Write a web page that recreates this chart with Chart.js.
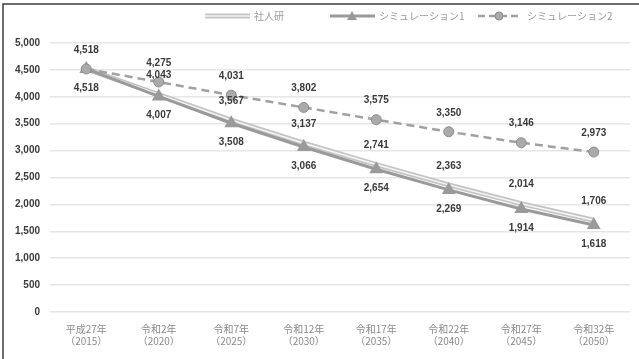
<!DOCTYPE html>
<html>
<head>
<meta charset="utf-8">
<script src="https://cdn.jsdelivr.net/npm/chart.js@4"></script>
<style>
  html, body { margin: 0; padding: 0; background: #fff; }
  #wrap { width: 639px; height: 359px; position: relative; }
</style>
</head>
<body>
<div id="wrap"><canvas id="c" width="639" height="359"></canvas></div>
<script>
// --- data ---
const years = ["平成27年", "令和2年", "令和7年", "令和12年", "令和17年", "令和22年", "令和27年", "令和32年"];
const westernYears = ["2015", "2020", "2025", "2030", "2035", "2040", "2045", "2050"];
const seriesNames = ["社人研", "シミュレーション1", "シミュレーション2"];
const ipss = [4518, 4043, 3567, 3137, 2741, 2363, 2014, 1706];
const sim1 = [4518, 4007, 3508, 3066, 2654, 2269, 1914, 1618];
const sim2 = [4518, 4275, 4031, 3802, 3575, 3350, 3146, 2973];
const yTicks = [0, 500, 1000, 1500, 2000, 2500, 3000, 3500, 4000, 4500, 5000];

const labels = years.map((y, i) => [y, "（" + westernYears[i] + "）"]);
const fmt = (v) => v.toLocaleString("en-US");

// --- legend: line + marker swatch, then the name ---
const legendX = [205, 330, 478];
function drawSwatch(g, kind, x, y) {
  g.save();
  if (kind === 0) {
    g.strokeStyle = "#c4c4c4"; g.lineWidth = 5;
    g.beginPath(); g.moveTo(x, y); g.lineTo(x + 45, y); g.stroke();
    g.strokeStyle = "#f4f4f4"; g.lineWidth = 1.5;
    g.beginPath(); g.moveTo(x, y); g.lineTo(x + 45, y); g.stroke();
  } else if (kind === 1) {
    g.strokeStyle = "#9a9a9a"; g.lineWidth = 3;
    g.beginPath(); g.moveTo(x, y); g.lineTo(x + 45, y); g.stroke();
    g.fillStyle = "#9a9a9a";
    g.beginPath(); g.moveTo(x + 22, y - 5); g.lineTo(x + 27, y + 4); g.lineTo(x + 17, y + 4); g.closePath(); g.fill();
  } else {
    g.strokeStyle = "#a0a0a0"; g.lineWidth = 2.5; g.setLineDash([7, 4]);
    g.beginPath(); g.moveTo(x, y); g.lineTo(x + 42, y); g.stroke();
    g.setLineDash([]);
    g.fillStyle = "#aaaaaa"; g.strokeStyle = "#8c8c8c"; g.lineWidth = 1;
    g.beginPath(); g.arc(x + 21, y, 4, 0, Math.PI * 2); g.fill(); g.stroke();
  }
  g.restore();
}
const legendPlugin = {
  id: "legendPlugin",
  afterDraw(chart) {
    const g = chart.ctx;
    g.save();
    g.font = "10px 'Noto Sans CJK JP', sans-serif";
    g.fillStyle = "#9a9a9a";
    g.textBaseline = "middle";
    seriesNames.forEach((name, k) => {
      drawSwatch(g, k, legendX[k], 16);
      g.fillText(name, legendX[k] + 49, 16);
    });
    g.restore();
  }
};

// value labels: offset above/below each series (first 社人研 value shares the start point)
const labelSets = [
  { ds: 0, dy: -19, skipFirst: true },
  { ds: 2, dy: 19, skipFirst: false },
  { ds: 3, dy: -19, skipFirst: false },
];
const valueLabels = {
  id: "valueLabels",
  afterDatasetsDraw(chart) {
    const ctx = chart.ctx;
    ctx.save();
    ctx.font = "bold 10px 'Liberation Sans', Arial, sans-serif";
    ctx.fillStyle = "#3a3a3a";
    ctx.textAlign = "center";
    ctx.textBaseline = "middle";
    labelSets.forEach((ls) => {
      const meta = chart.getDatasetMeta(ls.ds);
      const data = chart.data.datasets[ls.ds].data;
      meta.data.forEach((pt, i) => {
        if (ls.skipFirst && i === 0) return;
        ctx.fillText(fmt(data[i]), pt.x, pt.y + ls.dy);
      });
    });
    ctx.restore();
  }
};

// frame lines (top and left edge of the scanned figure)
const frame = {
  id: "frame",
  afterDraw(chart) {
    const ctx = chart.ctx;
    ctx.save();
    ctx.strokeStyle = "#3c3c3c";
    ctx.lineWidth = 1.5;
    ctx.beginPath();
    ctx.moveTo(3, 359); ctx.lineTo(3, 4); ctx.lineTo(639, 4);
    ctx.stroke();
    ctx.restore();
  }
};

new Chart(document.getElementById("c"), {
  type: "line",
  data: {
    labels,
    datasets: [
      { label: seriesNames[0], data: ipss, borderColor: "#c4c4c4", borderWidth: 5, pointRadius: 0, order: 3 },
      { label: "_inner", data: ipss, borderColor: "#f6f6f6", borderWidth: 1.5, pointRadius: 0, order: 2 },
      { label: seriesNames[1], data: sim1, borderColor: "#9a9a9a", borderWidth: 3, pointStyle: "triangle",
        pointRadius: 5, pointBackgroundColor: "#9a9a9a", pointBorderColor: "#9a9a9a", order: 1 },
      { label: seriesNames[2], data: sim2, borderColor: "#a0a0a0", borderWidth: 2.5, borderDash: [8, 5],
        pointStyle: "circle", pointRadius: 5, pointBackgroundColor: "#aaaaaa", pointBorderColor: "#8c8c8c",
        pointBorderWidth: 1, order: 0 },
    ],
  },
  options: {
    responsive: false,
    animation: false,
    layout: { padding: { top: 43, right: 9, left: 2, bottom: 0 } },
    plugins: {
      tooltip: { enabled: false },
      legend: { display: false },
    },
    scales: {
      x: {
        offset: true,
        grid: { display: false },
        border: { display: false },
        ticks: {
          color: "#8a8a8a",
          maxRotation: 0,
          autoSkip: false,
          font: { family: "'Noto Sans CJK JP', sans-serif", size: 10 },
        },
        afterFit: (s) => { s.height = 47; },
      },
      y: {
        min: 0,
        max: 5000,
        afterBuildTicks: (s) => { s.ticks = yTicks.map((v) => ({ value: v })); },
        grid: { color: "#e6e6e6", lineWidth: 1.5, drawTicks: false },
        border: { display: false },
        ticks: {
          color: "#3a3a3a",
          padding: 10,
          font: { family: "'Liberation Sans', Arial, sans-serif", size: 10, weight: "bold" },
          callback: (v) => fmt(v),
        },
        afterFit: (s) => { s.width = 48; },
      },
    },
  },
  plugins: [valueLabels, legendPlugin, frame],
});
</script>
</body>
</html>
